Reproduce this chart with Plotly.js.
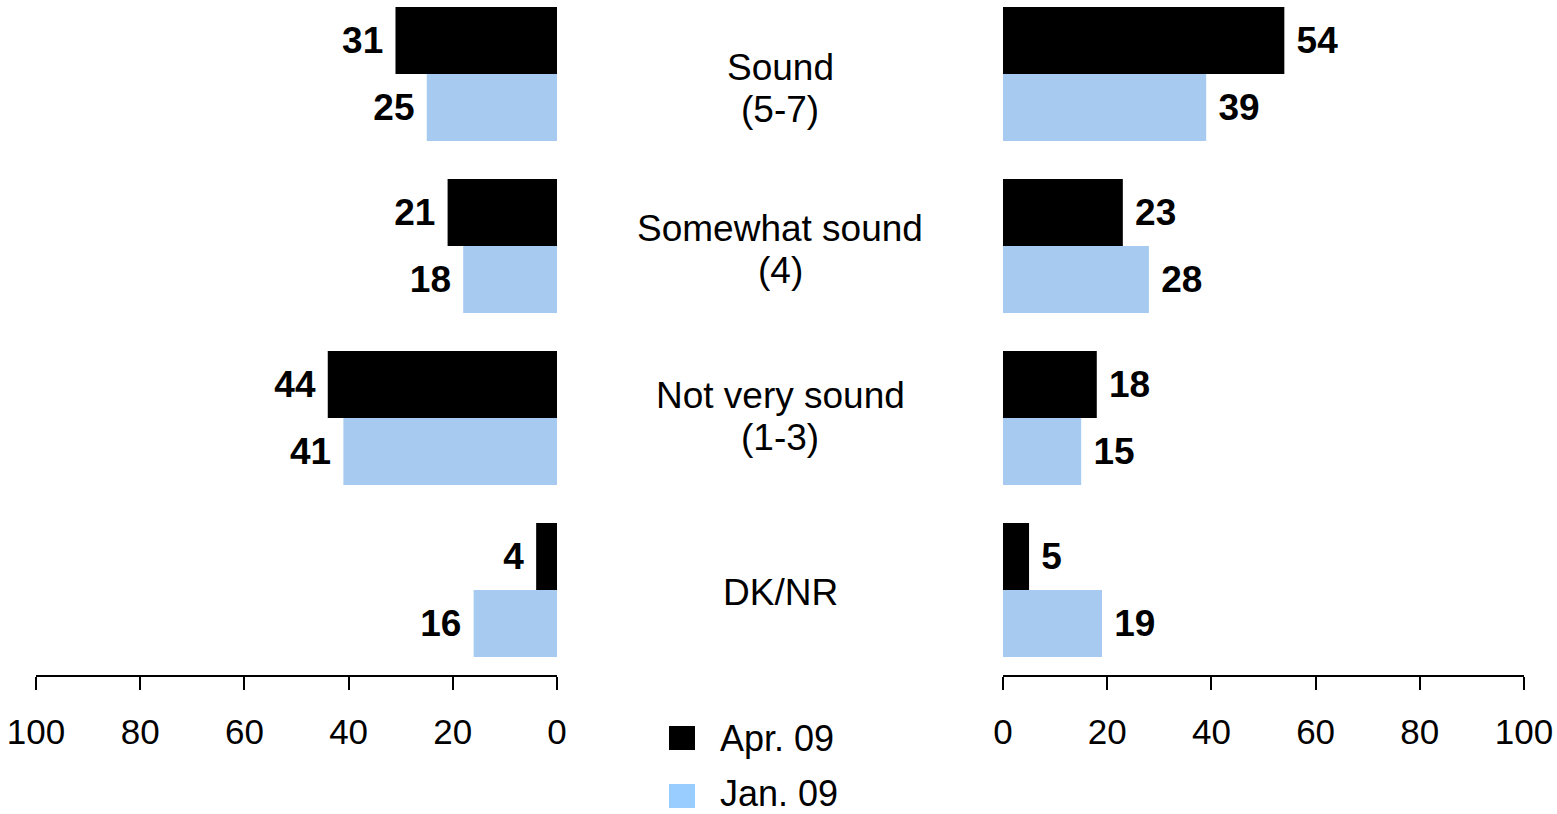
<!DOCTYPE html>
<html>
<head>
<meta charset="utf-8">
<script src="https://cdn.plot.ly/plotly-3.0.1.min.js"></script>
<style>html,body{margin:0;padding:0;background:#fff;}#chart{width:1557px;height:814px;}</style>
</head>
<body>
<div id="chart"></div>
<script>
// Data
var categories = ["Sound<br>(5-7)", "Somewhat sound<br>(4)", "Not very sound<br>(1-3)", "DK/NR"];
var seriesNames = ["Apr. 09", "Jan. 09"];
var leftApr = [31, 21, 44, 4];
var leftJan = [25, 18, 41, 16];
var rightApr = [54, 23, 18, 5];
var rightJan = [39, 28, 15, 19];
var tickVals = [0, 20, 40, 60, 80, 100];

var colApr = "#000000";
var colJan = "#A6CAF0";
var idx = categories.map(function (c, i) { return i; });
var FF = "Liberation Sans, Arial, sans-serif";

var labelFont = {family: FF, size: 37, color: "#000"};

function barTrace(vals, name, color, xa, ya, side) {
  return {
    type: "bar", orientation: "h",
    x: vals, y: idx, name: name,
    xaxis: xa, yaxis: ya,
    marker: {color: color, line: {width: 0}},
    text: vals.map(function (v) { return "<b>" + v + "</b>"; }),
    texttemplate: side === "left" ? "%{text}\u2005" : "\u2005%{text}",
    textposition: "outside",
    constraintext: "none",
    cliponaxis: false,
    textfont: labelFont,
    showlegend: false,
    hoverinfo: "skip"
  };
}

var traces = [
  barTrace(leftApr, seriesNames[0], colApr, "x", "y", "left"),
  barTrace(leftJan, seriesNames[1], colJan, "x", "y", "left"),
  barTrace(rightApr, seriesNames[0], colApr, "x2", "y2", "right"),
  barTrace(rightJan, seriesNames[1], colJan, "x2", "y2", "right")
];

var W = 1557, H = 814, mt = 0, mb = 139;
var plotH = H - mt - mb;
var yRange = [3.494, -0.430];

var axisBase = {
  tickvals: tickVals,
  ticktext: tickVals.map(String),
  showgrid: false, zeroline: false,
  showline: true, linecolor: "#000", linewidth: 2,
  ticks: "outside", ticklen: 13, tickwidth: 2, tickcolor: "#000",
  ticklabelstandoff: 12,
  tickfont: {family: FF, size: 35, color: "#000"},
  fixedrange: true
};

var xaxis = Object.assign({}, axisBase, {domain: [36 / W, 557 / W], range: [100, 0], anchor: "y"});
var xaxis2 = Object.assign({}, axisBase, {domain: [1003 / W, 1524 / W], range: [0, 100], anchor: "y2"});

var yBase = {range: yRange, visible: false, showgrid: false, zeroline: false, fixedrange: true};

// Category labels in the middle column, one annotation per line
var lineGap = 42;
var blockShift = [15, 4, -2, 2];
var annotations = [];
categories.forEach(function (c, i) {
  var lines = c.split("<br>");
  var n = lines.length;
  lines.forEach(function (ln, k) {
    var off = (k - (n - 1) / 2) * lineGap + blockShift[i];
    annotations.push({
      text: ln, xref: "paper", yref: "y", x: 780 / W, y: i,
      yshift: -off,
      xanchor: "center", yanchor: "middle", showarrow: false, align: "center",
      font: {family: FF, size: 37, color: "#000"}
    });
  });
});

// Manual legend
var legendItems = [
  {name: seriesNames[0], color: colApr, yc: 738, ty: 738},
  {name: seriesNames[1], color: "#99CCFF", yc: 796, ty: 793}
];
var shapes = [];
legendItems.forEach(function (it) {
  shapes.push({
    type: "rect", xref: "paper", yref: "paper",
    x0: 669 / W, x1: 695 / W,
    y0: (H - (it.yc + 12) - mb) / plotH, y1: (H - (it.yc - 12) - mb) / plotH,
    fillcolor: it.color, line: {width: 0}
  });
  annotations.push({
    text: it.name, xref: "paper", yref: "paper",
    x: 719 / W, y: (H - it.ty - mb) / plotH,
    xanchor: "left", yanchor: "middle", showarrow: false, borderpad: 0,
    font: {family: FF, size: 36, color: "#000"}
  });
});

var layout = {
  width: W, height: H,
  margin: {l: 0, r: 0, t: mt, b: mb, pad: 0},
  paper_bgcolor: "#fff", plot_bgcolor: "#fff",
  barmode: "group", bargap: 0.221, bargroupgap: 0,
  xaxis: xaxis, xaxis2: xaxis2,
  yaxis: Object.assign({}, yBase, {anchor: "x", domain: [0, 1]}),
  yaxis2: Object.assign({}, yBase, {anchor: "x2", domain: [0, 1]}),
  annotations: annotations,
  shapes: shapes,
  showlegend: false,
  font: {family: FF, color: "#000"}
};

Plotly.newPlot("chart", traces, layout, {displayModeBar: false, staticPlot: true});
</script>
</body>
</html>
